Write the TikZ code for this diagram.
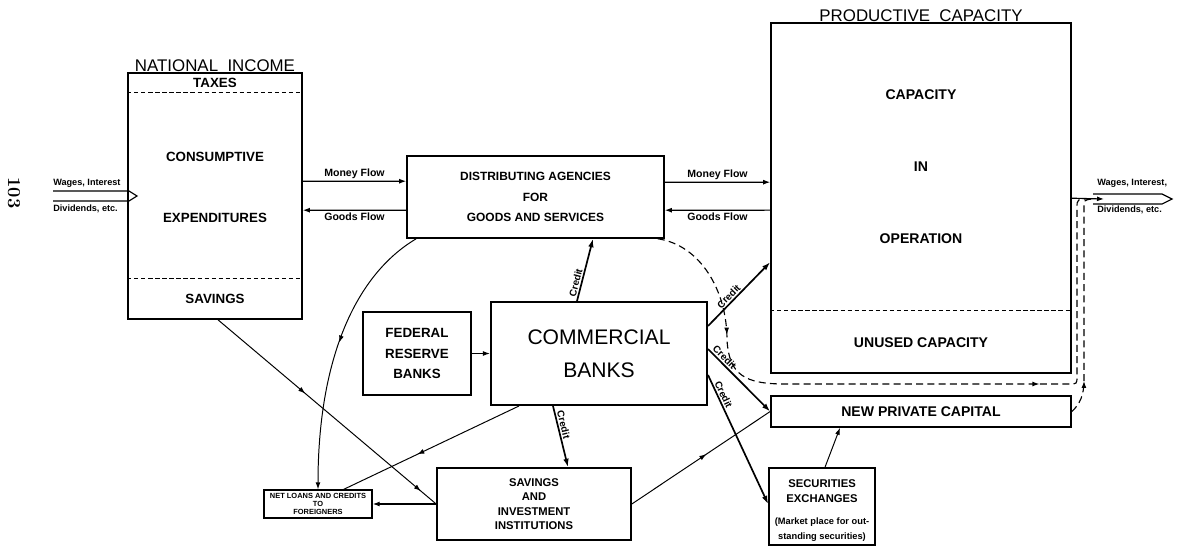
\documentclass[tikz,border=0pt]{standalone}
\usepackage{fontspec}
\setsansfont{Liberation Sans}
\usetikzlibrary{arrows.meta,calc,decorations.markings,positioning}

\tikzset{
    box/.style={draw, line width=1.1pt, inner sep=1pt, align=center}
}
\tikzset{
    txt/.style={inner sep=0pt, align=center,
        font=\sffamily\bfseries\fontsize{9.5}{12}\selectfont},
    title/.style={inner sep=.5pt, font=\sffamily\fontsize{12}{14}\selectfont},
    flowlbl/.style={inner sep=1.5pt, font=\sffamily\bfseries\fontsize{7.5}{9}\selectfont},
    wagelbl/.style={inner sep=0pt, anchor=west,
        font=\sffamily\bfseries\fontsize{6.5}{8}\selectfont},
    creditlbl/.style={inner sep=1pt, sloped, above,
        font=\sffamily\bfseries\fontsize{7}{8}\selectfont}
}
\tikzset{
    flow/.style={line width=.8pt, -{Latex[length=5pt,width=3.5pt]}},
    credit/.style={line width=1.2pt, -{Latex[length=6pt,width=4pt]}},
    thinline/.style={line width=.7pt},
    innerdash/.style={line width=.8pt, dash pattern=on 3pt off 2pt},
    dashline/.style={line width=.8pt, dash pattern=on 5pt off 3pt},
    midarrow/.style={postaction={decorate, decoration={markings,
        mark=at position #1 with {\arrow{Latex[length=5pt,width=3.5pt]}}}}}
}

\begin{document}
\begin{tikzpicture}[x=0.025cm, y=-0.025cm]
  \useasboundingbox (0,0) rectangle (1177,553);

  \node (page) [font=\bfseries\fontsize{13}{13}\selectfont, rotate=-90] at (14,193) {103};

  % national income
  \node (ni) [box, minimum width=4.35cm, minimum height=6.15cm,
    label={[title]above:NATIONAL\ \ INCOME}] at (215,196) {};
  \node (taxes) [txt] at (215,83) {TAXES};
  \node (consum) [txt] at (215,157) {CONSUMPTIVE};
  \node (expend) [txt] at (215,218) {EXPENDITURES};
  \node (savings) [txt] at (215,299) {SAVINGS};
  \draw[innerdash] ($(ni.north west)+(0,20)$) -- ($(ni.north east)+(0,20)$);
  \draw[innerdash] ($(ni.north west)+(0,206)$) -- ($(ni.north east)+(0,206)$);

  % distributing agencies
  \node (da) [box, minimum width=6.425cm, minimum height=2.05cm,
    font=\sffamily\bfseries\fontsize{8.5}{14.5}\selectfont] at (535.5,197)
    {DISTRIBUTING AGENCIES\\FOR\\GOODS AND SERVICES};

  % productive capacity
  \node (pc) [box, minimum width=7.5cm, minimum height=8.75cm,
    label={[title]above:PRODUCTIVE\ \ CAPACITY}] at (921,198) {};
  \node (capac) [txt, font=\sffamily\bfseries\fontsize{10}{12}\selectfont] at (921,95) {CAPACITY};
  \node (in) [txt, font=\sffamily\bfseries\fontsize{10}{12}\selectfont] at (921,167) {IN};
  \node (oper) [txt, font=\sffamily\bfseries\fontsize{10}{12}\selectfont] at (921,239) {OPERATION};
  \node (unused) [txt, font=\sffamily\bfseries\fontsize{10}{12}\selectfont] at (921,343) {UNUSED CAPACITY};
  \draw[innerdash] ($(pc.north west)+(0,288)$) -- ($(pc.north east)+(0,288)$);

  % banks
  \node (frb) [box, minimum width=2.7cm, minimum height=2.075cm,
    font=\sffamily\bfseries\fontsize{9.5}{14.5}\selectfont] at (417,353.5)
    {FEDERAL\\RESERVE\\BANKS};
  \node (cb) [box, line width=1.4pt, minimum width=5.4cm, minimum height=2.575cm,
    font=\sffamily\fontsize{15}{23.4}\selectfont] at (599,353.5)
    {COMMERCIAL\\BANKS};

  % lower boxes
  \node (nl) [box, line width=.9pt, minimum width=2.7cm, minimum height=0.7cm, inner sep=0pt,
    font=\sffamily\bfseries\fontsize{5.3}{5.5}\selectfont] at (318,504)
    {NET LOANS AND CREDITS\\TO\\FOREIGNERS};
  \node (sii) [box, minimum width=4.85cm, minimum height=1.8cm,
    font=\sffamily\bfseries\fontsize{8}{10.2}\selectfont] at (534,504)
    {SAVINGS\\AND\\INVESTMENT\\INSTITUTIONS};
  \node (npc) [box, minimum width=7.5cm, minimum height=0.775cm,
    font=\sffamily\bfseries\fontsize{10}{12}\selectfont] at (921,411.5)
    {NEW PRIVATE CAPITAL};
  \node (se) [box, minimum width=2.65cm, minimum height=1.925cm] at (822,506.5) {};
  \node (setxt) [txt, font=\sffamily\bfseries\fontsize{8}{10.6}\selectfont] at (822,491.5)
    {SECURITIES\\EXCHANGES};
  \node (senote) [txt, font=\sffamily\bfseries\fontsize{6.6}{10.6}\selectfont] at (822,529.5)
    {(Market place for out-\\standing securities)};

  % wages in and out
  \draw[line width=.8pt] (53,191) -- (129,191) -- (137,196) -- (129,201) -- (53,201);
  \node (wagesl) [wagelbl] at (53,183) {Wages, Interest};
  \node (divl) [wagelbl] at (53,209) {Dividends, etc.};
  \coordinate (wr) at (1104,199);
  \draw[flow] ($(pc.north east)+(0,176)$) -- (wr);
  \draw[line width=.8pt] (1093,194) -- (1162,194) -- (1172,199) -- (1162,204) -- (1093,204);
  \node (wagesr) [wagelbl] at (1097,183) {Wages, Interest,};
  \node (divr) [wagelbl] at (1097,210) {Dividends, etc.};

  % money and goods
  \draw[flow] ($(ni.north east)+(0,109)$) -- node[flowlbl, above] {Money Flow}
    ($(da.north west)+(0,26)$);
  \draw[flow] ($(da.north west)+(0,55)$) -- node[flowlbl, below] {Goods Flow}
    ($(ni.north east)+(0,138)$);
  \draw[flow] ($(da.north east)+(0,27)$) -- node[flowlbl, above] {Money Flow}
    ($(pc.north west)+(0,160)$);
  \draw[flow] ($(pc.north west)+(0,188)$) -- node[flowlbl, below] {Goods Flow}
    ($(da.north east)+(0,55)$);

  % credit
  \draw[flow] (frb) -- (cb);
  \draw[credit] ($(cb.north)+(-22,0)$) -- node[creditlbl, pos=.27] {Credit}
    ($(da.south)+(57.5,0)$);
  \draw[credit] ($(cb.north east)+(0,25)$) -- node[creditlbl, pos=.4] {Credit}
    ($(pc.north west)+(0,240)$);
  \draw[credit] ($(cb.north east)+(0,48)$) -- node[creditlbl, pos=.2] {Credit}
    (npc.west);
  \draw[credit] ($(cb.north east)+(0,74)$) -- node[creditlbl, pos=.17] {Credit}
    ($(se.north west)+(0,37)$);
  \draw[credit] ($(cb.south)+(-46,0)$) -- node[creditlbl, pos=.33] {Credit}
    ($(sii.north)+(34,0)$);

  % savings and loans
  \draw[thinline, midarrow=.4, midarrow=.93] ($(ni.south)+(3,0)$) -- (sii.west);
  \draw[flow] (sii.west) -- (nl.east);
  \draw[thinline, midarrow=.58] ($(cb.south west)+(29,0)$) -- ($(nl.north east)+(-29,0)$);
  \draw[flow, line width=.7pt, midarrow=.47] ($(da.south west)+(10,0)$)
    .. controls (355,275) and (318,360) .. (nl.north);
  \draw[thinline, midarrow=.54] (sii.east) -- (npc.west);
  \draw[flow, line width=.7pt] ($(se.north)+(3,0)$) -- ($(npc.south)+(-81,0)$);

  % dashed flows
  \draw[dashline, midarrow=3.2cm, midarrow=11.8cm] ($(da.south east)+(-7,0)$)
    .. controls (700,245) and (727,290) .. (727,340)
    .. controls (729,375) and (745,384) .. (785,384) -- (1069,384)
    .. controls (1077,384) .. (1077,376) -- (1077,208)
    .. controls (1077,199) .. (1090,199);
  \draw[dashline, midarrow=.85cm] (npc.east)
    .. controls (1080,404) and (1084,395) .. (1084,380) -- (1084,208)
    .. controls (1084,200) .. (1092,199);
\end{tikzpicture}
\end{document}
